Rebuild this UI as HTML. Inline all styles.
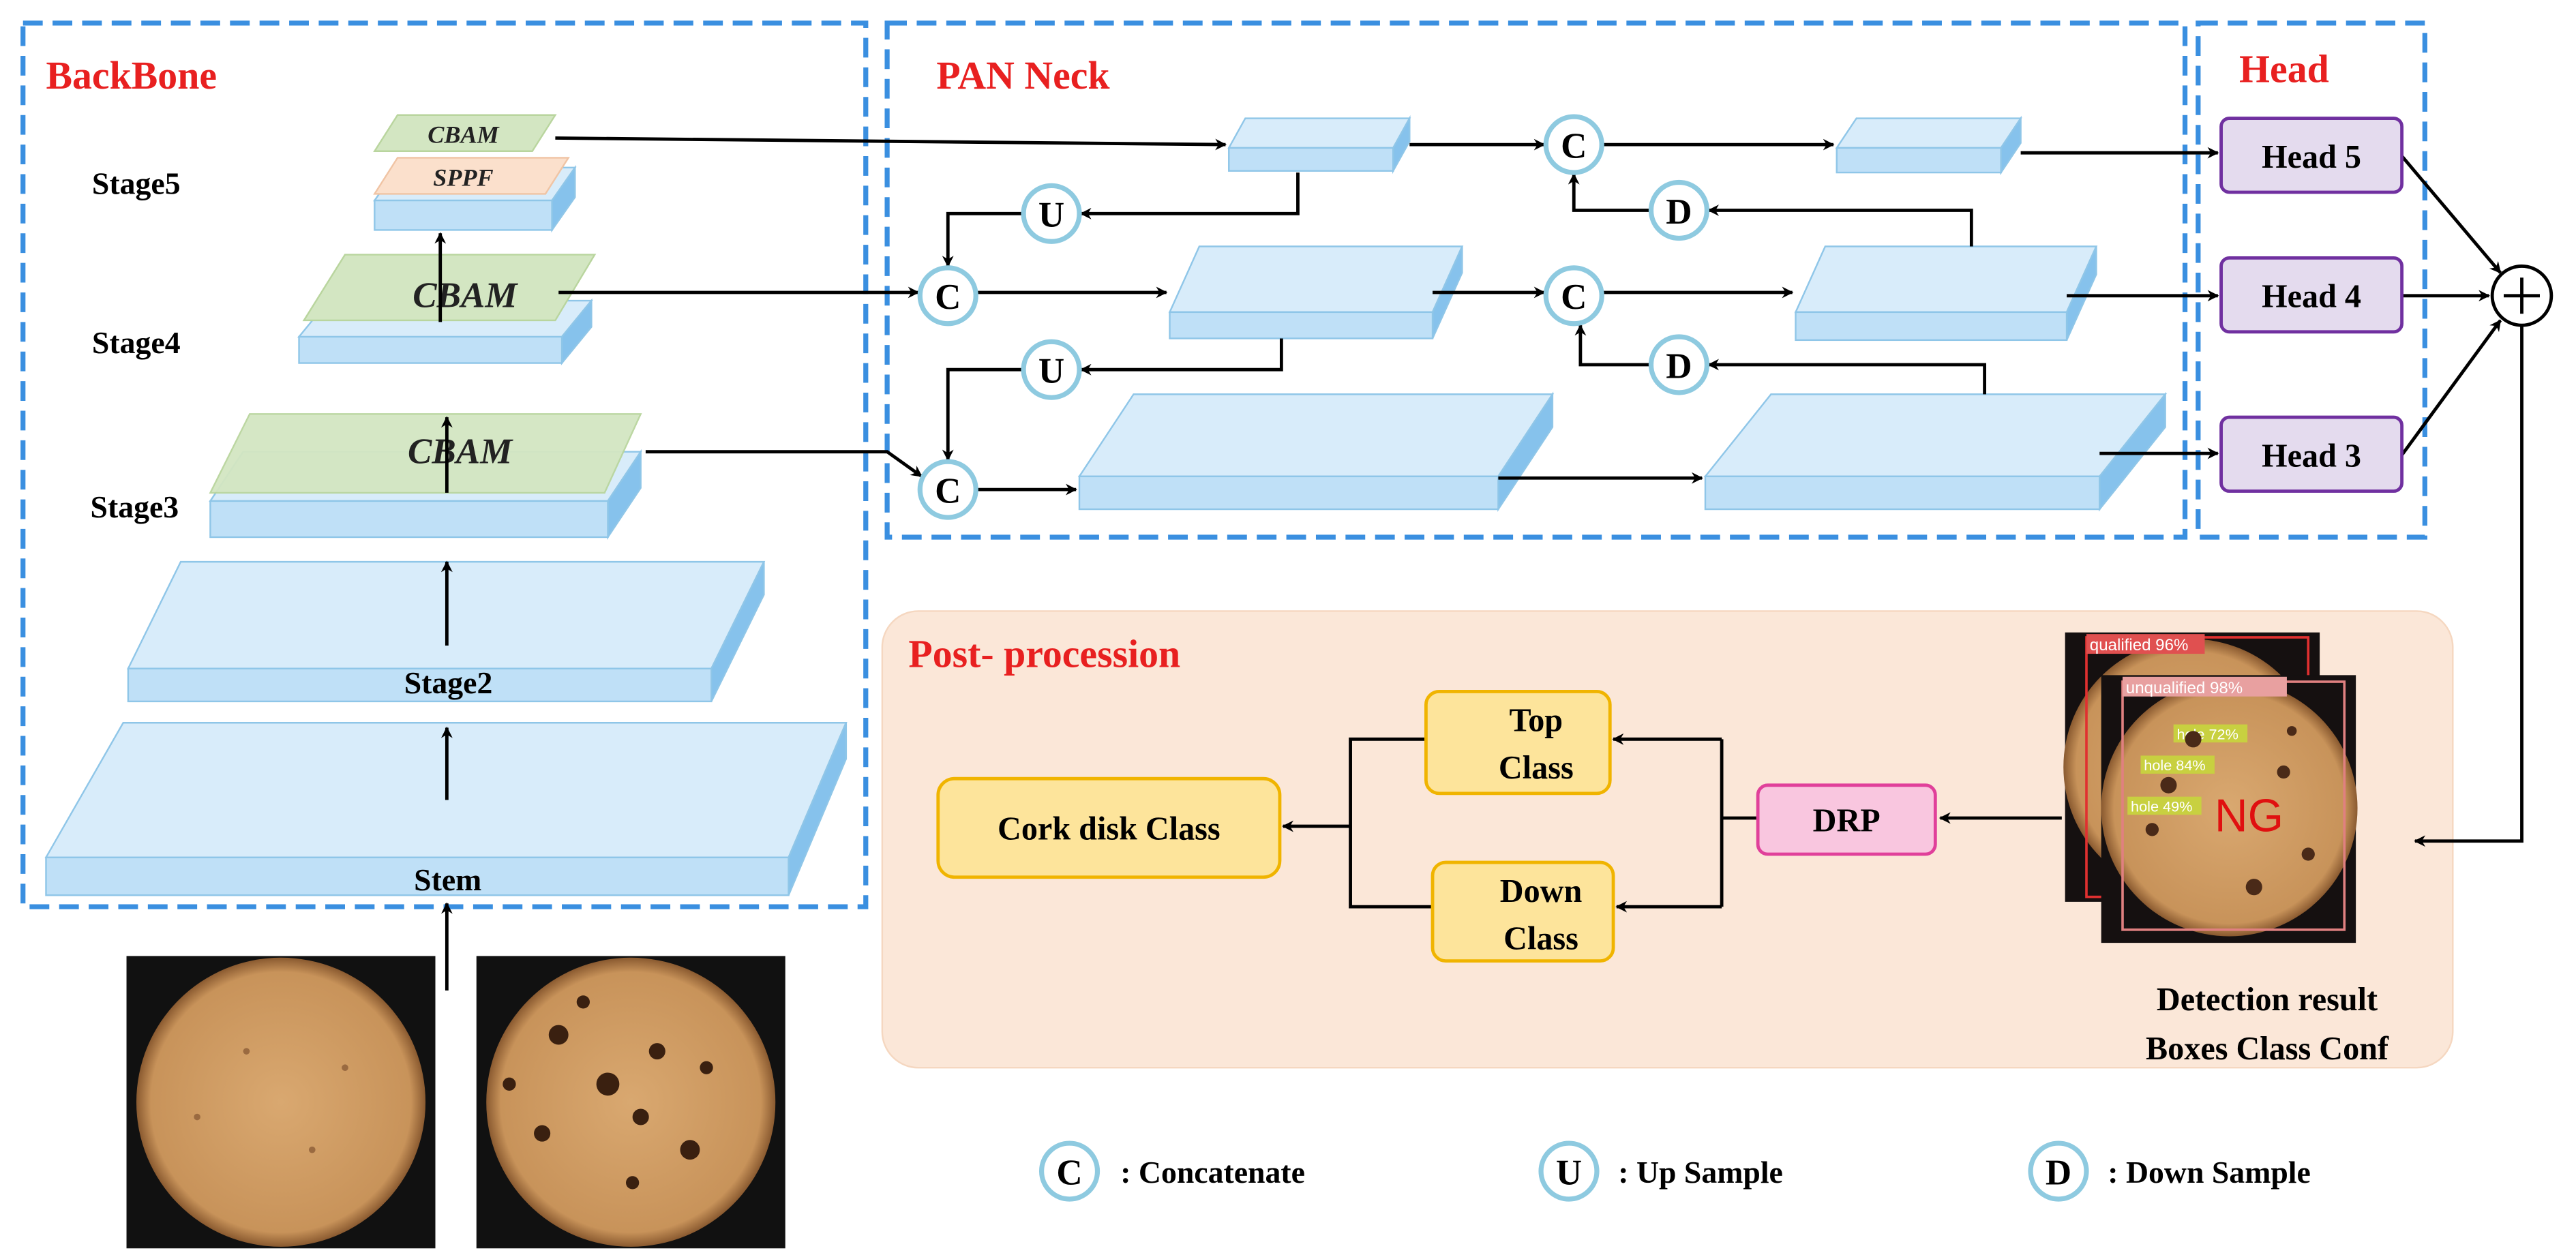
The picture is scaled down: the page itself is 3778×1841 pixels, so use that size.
<!DOCTYPE html>
<html><head><meta charset="utf-8"><style>
html,body{margin:0;padding:0;background:#fff;}
svg{display:block;}
text{font-family:"Liberation Serif",serif;font-weight:bold;}
</style></head><body>
<svg width="3778" height="1841" viewBox="0 0 1568 764" xmlns="http://www.w3.org/2000/svg">
<defs>
<marker id="a" viewBox="0 0 10 10" refX="9" refY="5" markerWidth="7" markerHeight="7" orient="auto" markerUnits="userSpaceOnUse"><path d="M0,0 L10,5 L0,10 L3,5 z" fill="#000"/></marker>
<radialGradient id="cork" cx="50%" cy="50%" r="50%"><stop offset="0" stop-color="#d9a870"/><stop offset="0.9" stop-color="#c8935a"/><stop offset="1" stop-color="#8a5a30"/></radialGradient>
</defs>
<!-- dashed frames -->
<g fill="none" stroke="#3a8fe0" stroke-width="3" stroke-dasharray="12,6">
<rect x="14" y="14" width="513" height="538"/>
<rect x="540" y="14" width="790" height="313"/>
<rect x="1338" y="14" width="138" height="313"/>
</g>
<rect x="537" y="372" width="956" height="278" rx="22" fill="#fbe7d8" stroke="#f5d7c0"/>

<text x="28" y="54" font-size="24" fill="#e82020">BackBone</text>
<text x="570" y="54" font-size="24" fill="#e82020">PAN Neck</text>
<text x="1363" y="50" font-size="24" fill="#e82020">Head</text>
<text x="553" y="406" font-size="24" fill="#e82020">Post- procession</text>

<!-- slabs: top, side, front -->
<g stroke="#8fc6e8" stroke-width="1">
<!-- Stem -->
<polygon points="28,522 75,440 515,440 480,522" fill="#d8ecfa"/>
<polygon points="480,522 515,440 515,462 480,545" fill="#86c2ec"/>
<rect x="28" y="522" width="452" height="23" fill="#bfe0f7"/>
<!-- Stage2 -->
<polygon points="78,407 110,342 465,342 433,407" fill="#d8ecfa"/>
<polygon points="433,407 465,342 465,362 433,427" fill="#86c2ec"/>
<rect x="78" y="407" width="355" height="20" fill="#bfe0f7"/>
<!-- Stage3 -->
<polygon points="128,305 148,275 390,275 370,305" fill="#d8ecfa"/>
<polygon points="370,305 390,275 390,297 370,327" fill="#86c2ec"/>
<rect x="128" y="305" width="242" height="22" fill="#bfe0f7"/>
<polygon points="128,300 152,252 390,252 368,300" fill="#d3e6c2" stroke="#b9d59e" opacity="0.95"/>
<!-- Stage4 -->
<polygon points="182,205 200,183 360,183 342,205" fill="#d8ecfa"/>
<polygon points="342,205 360,183 360,199 342,221" fill="#86c2ec"/>
<rect x="182" y="205" width="160" height="16" fill="#bfe0f7"/>
<polygon points="185,195 210,155 362,155 338,195" fill="#d3e6c2" stroke="#b9d59e"/>
<!-- Stage5 -->
<polygon points="228,122 242,102 350,102 336,122" fill="#d8ecfa"/>
<polygon points="336,122 350,102 350,120 336,140" fill="#86c2ec"/>
<rect x="228" y="122" width="108" height="18" fill="#bfe0f7"/>
<polygon points="228,118 242,96 346,96 332,118" fill="#fbe0cc" stroke="#f0c4a4"/>
<polygon points="228,92 242,70 338,70 324,92" fill="#d3e6c2" stroke="#b9d59e"/>
<!-- neck slabs -->
<polygon points="748,90 758,72 858,72 848,90" fill="#d8ecfa"/>
<polygon points="848,90 858,72 858,86 848,104" fill="#86c2ec"/>
<rect x="748" y="90" width="100" height="14" fill="#bfe0f7"/>
<polygon points="1118,90 1130,72 1230,72 1218,90" fill="#d8ecfa"/>
<polygon points="1218,90 1230,72 1230,87 1218,105" fill="#86c2ec"/>
<rect x="1118" y="90" width="100" height="15" fill="#bfe0f7"/>
<polygon points="712,190 730,150 890,150 872,190" fill="#d8ecfa"/>
<polygon points="872,190 890,150 890,166 872,206" fill="#86c2ec"/>
<rect x="712" y="190" width="160" height="16" fill="#bfe0f7"/>
<polygon points="1093,190 1111,150 1276,150 1258,190" fill="#d8ecfa"/>
<polygon points="1258,190 1276,150 1276,167 1258,207" fill="#86c2ec"/>
<rect x="1093" y="190" width="165" height="17" fill="#bfe0f7"/>
<polygon points="657,290 690,240 945,240 912,290" fill="#d8ecfa"/>
<polygon points="912,290 945,240 945,260 912,310" fill="#86c2ec"/>
<rect x="657" y="290" width="255" height="20" fill="#bfe0f7"/>
<polygon points="1038,290 1078,240 1318,240 1278,290" fill="#d8ecfa"/>
<polygon points="1278,290 1318,240 1318,260 1278,310" fill="#86c2ec"/>
<rect x="1038" y="290" width="240" height="20" fill="#bfe0f7"/>
</g>
<g font-style="italic" fill="#222" text-anchor="middle">
<text x="280" y="282" font-size="22">CBAM</text>
<text x="283" y="187" font-size="22">CBAM</text>
<text x="282" y="87" font-size="15">CBAM</text>
<text x="282" y="113" font-size="15">SPPF</text>
</g>
<g font-size="19" fill="#000">
<text x="56" y="118">Stage5</text>
<text x="56" y="215">Stage4</text>
<text x="55" y="315">Stage3</text>
<text x="246" y="422">Stage2</text>
<text x="252" y="542">Stem</text>
</g>

<!-- arrows -->
<g stroke="#000" stroke-width="2" fill="none" marker-end="url(#a)">
<line x1="272" y1="603" x2="272" y2="550"/>
<line x1="272" y1="487" x2="272" y2="443"/>
<line x1="272" y1="393" x2="272" y2="342"/>
<line x1="272" y1="300" x2="272" y2="254"/>
<line x1="268" y1="196" x2="268" y2="142"/>
<line x1="338" y1="84" x2="746" y2="88"/>
<line x1="858" y1="88" x2="940" y2="88"/>
<line x1="976" y1="88" x2="1116" y2="88"/>
<line x1="1230" y1="93" x2="1350" y2="93"/>
<polyline points="790,105 790,130 658,130"/>
<polyline points="623,130 577,130 577,162"/>
<line x1="340" y1="178" x2="559" y2="178"/>
<line x1="595" y1="178" x2="710" y2="178"/>
<line x1="872" y1="178" x2="940" y2="178"/>
<line x1="976" y1="178" x2="1091" y2="178"/>
<line x1="1258" y1="180" x2="1350" y2="180"/>
<polyline points="1200,150 1200,128 1040,128"/>
<polyline points="1005,128 958,128 958,106"/>
<polyline points="780,206 780,225 658,225"/>
<polyline points="623,225 577,225 577,280"/>
<polyline points="393,275 540,275 561,290"/>
<line x1="595" y1="298" x2="655" y2="298"/>
<line x1="912" y1="291" x2="1036" y2="291"/>
<polyline points="1208,240 1208,222 1040,222"/>
<polyline points="1005,222 962,222 962,198"/>
<line x1="1278" y1="276" x2="1350" y2="276"/>
<line x1="1462" y1="95" x2="1522" y2="166"/>
<line x1="1462" y1="180" x2="1515" y2="180"/>
<line x1="1462" y1="277" x2="1522" y2="195"/>
<polyline points="1535,198 1535,512 1470,512"/>
<line x1="1255" y1="498" x2="1181" y2="498"/>
<line x1="1048" y1="450" x2="982" y2="450"/>
<line x1="1048" y1="552" x2="984" y2="552"/>
<line x1="822" y1="503" x2="781" y2="503"/>
</g>
<g stroke="#000" stroke-width="2" fill="none">
<polyline points="1070,498 1048,498"/>
<line x1="1048" y1="450" x2="1048" y2="552"/>
<polyline points="868,450 822,450 822,552 872,552"/>
</g>

<!-- circles -->
<g stroke="#8ecae0" stroke-width="3" fill="#fff">
<circle cx="958" cy="88" r="17"/><circle cx="1022" cy="128" r="17"/><circle cx="640" cy="130" r="17"/>
<circle cx="577" cy="180" r="17"/><circle cx="958" cy="180" r="17"/><circle cx="640" cy="225" r="17"/>
<circle cx="1022" cy="222" r="17"/><circle cx="577" cy="298" r="17"/>
<circle cx="651" cy="713" r="17"/><circle cx="955" cy="713" r="17"/><circle cx="1253" cy="713" r="17"/>
</g>
<g font-size="22" text-anchor="middle" fill="#000">
<text x="958" y="96">C</text><text x="1022" y="136">D</text><text x="640" y="138">U</text>
<text x="577" y="188">C</text><text x="958" y="188">C</text><text x="640" y="233">U</text>
<text x="1022" y="230">D</text><text x="577" y="306">C</text>
<text x="651" y="721">C</text><text x="955" y="721">U</text><text x="1253" y="721">D</text>
</g>
<g font-size="19" fill="#000">
<text x="682" y="720">: Concatenate</text>
<text x="985" y="720">: Up Sample</text>
<text x="1283" y="720">: Down Sample</text>
</g>

<!-- heads -->
<g fill="#e4dbee" stroke="#7030a0" stroke-width="2">
<rect x="1352" y="72" width="110" height="45" rx="5"/>
<rect x="1352" y="157" width="110" height="45" rx="5"/>
<rect x="1352" y="254" width="110" height="45" rx="5"/>
</g>
<g font-size="20" text-anchor="middle" fill="#000">
<text x="1407" y="102">Head 5</text><text x="1407" y="187">Head 4</text><text x="1407" y="284">Head 3</text>
</g>
<circle cx="1535" cy="180" r="18" fill="#fff" stroke="#000" stroke-width="2"/>
<path d="M1524,180 H1546 M1535,169 V191" stroke="#000" stroke-width="2"/>

<!-- post boxes -->
<rect x="1070" y="478" width="108" height="42" rx="6" fill="#f9c6df" stroke="#e0409a" stroke-width="2"/>
<text x="1124" y="506" font-size="20" text-anchor="middle">DRP</text>
<g fill="#fde49b" stroke="#f0b400" stroke-width="2">
<rect x="868" y="421" width="112" height="62" rx="8"/>
<rect x="872" y="525" width="110" height="60" rx="8"/>
<rect x="571" y="474" width="208" height="60" rx="10"/>
</g>
<g font-size="20" text-anchor="middle" fill="#000">
<text x="935" y="445">Top</text><text x="935" y="474">Class</text>
<text x="938" y="549">Down</text><text x="938" y="578">Class</text>
<text x="675" y="511">Cork disk Class</text>
<text x="1380" y="615">Detection result</text>
<text x="1380" y="645">Boxes Class Conf</text>
</g>

<!-- detection images -->
<rect x="1257" y="385" width="155" height="164" fill="#151010"/>
<circle cx="1334" cy="467" r="78" fill="url(#cork)"/>
<rect x="1270" y="388" width="135" height="158" fill="none" stroke="#e03030" stroke-width="1.5"/>
<rect x="1270" y="386" width="72" height="12" fill="#e05050"/>
<text x="1272" y="396" font-size="10" font-family="Liberation Sans" font-weight="normal" fill="#fff" style="font-family:'Liberation Sans',sans-serif;font-weight:normal">qualified 96%</text>
<rect x="1279" y="411" width="155" height="163" fill="#151010"/>
<circle cx="1357" cy="492" r="78" fill="url(#cork)"/>
<rect x="1292" y="415" width="135" height="151" fill="none" stroke="#e08080" stroke-width="1.5"/>
<rect x="1292" y="412" width="100" height="12" fill="#e8a0a0"/>
<text x="1294" y="422" font-size="10" fill="#fff" style="font-family:'Liberation Sans',sans-serif;font-weight:normal">unqualified 98%</text>
<rect x="1323" y="441" width="45" height="11" fill="#c8d040"/>
<text x="1325" y="450" font-size="9" fill="#fff" style="font-family:'Liberation Sans',sans-serif;font-weight:normal">hole 72%</text>
<rect x="1303" y="460" width="45" height="11" fill="#c8d040"/>
<text x="1305" y="469" font-size="9" fill="#fff" style="font-family:'Liberation Sans',sans-serif;font-weight:normal">hole 84%</text>
<rect x="1295" y="485" width="45" height="11" fill="#c8d040"/>
<text x="1297" y="494" font-size="9" fill="#fff" style="font-family:'Liberation Sans',sans-serif;font-weight:normal">hole 49%</text>
<text x="1348" y="506" font-size="28" fill="#e01010" style="font-family:'Liberation Sans',sans-serif;font-weight:normal">NG</text>
<g fill="#4a2a18">
<circle cx="1335" cy="450" r="5"/><circle cx="1320" cy="478" r="5"/><circle cx="1390" cy="470" r="4"/><circle cx="1405" cy="520" r="4"/><circle cx="1372" cy="540" r="5"/><circle cx="1310" cy="505" r="4"/><circle cx="1395" cy="445" r="3"/>
</g>

<!-- input images -->
<rect x="77" y="582" width="188" height="178" fill="#111"/>
<circle cx="171" cy="671" r="88" fill="url(#cork)"/>
<rect x="290" y="582" width="188" height="178" fill="#111"/>
<circle cx="384" cy="671" r="88" fill="url(#cork)"/>
<g fill="#3a2010">
<circle cx="340" cy="630" r="6"/><circle cx="370" cy="660" r="7"/><circle cx="400" cy="640" r="5"/><circle cx="420" cy="700" r="6"/><circle cx="330" cy="690" r="5"/><circle cx="385" cy="720" r="4"/><circle cx="355" cy="610" r="4"/><circle cx="430" cy="650" r="4"/><circle cx="310" cy="660" r="4"/><circle cx="390" cy="680" r="5"/>
</g>
<g fill="#9a6a40"><circle cx="150" cy="640" r="2"/><circle cx="190" cy="700" r="2"/><circle cx="120" cy="680" r="2"/><circle cx="210" cy="650" r="2"/></g>
</svg>
</body></html>
